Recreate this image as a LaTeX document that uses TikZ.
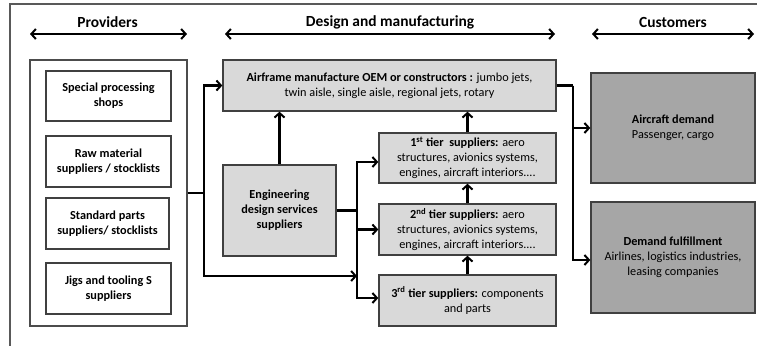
\documentclass[tikz,border=0pt]{standalone}
\usepackage{fontspec}
\setmainfont{Carlito}
\usetikzlibrary{arrows.meta}
\definecolor{lightg}{HTML}{D9D9D9}
\definecolor{darkg}{HTML}{A6A6A6}
\definecolor{edgeg}{HTML}{404040}
\begin{document}
\begin{tikzpicture}[x=1bp,y=-1bp,
  box/.style={draw=edgeg, line width=1.4bp, fill=lightg, align=center, inner sep=1pt,
    font=\fontsize{12.3}{15}\selectfont},
  pbox/.style={box, fill=white, font=\bfseries\fontsize{12.3}{15}\selectfont},
  dbox/.style={box, fill=darkg},
  conn/.style={line width=2.2bp, -{Straight Barb[length=4.5bp,width=10bp,line width=2bp]}},
  plain/.style={line width=2.2bp},
  harrow/.style={line width=2bp, {Straight Barb[length=4.5bp,width=10bp]}-{Straight Barb[length=4.5bp,width=10bp]}},
  head/.style={font=\bfseries\fontsize{15.5}{18}\selectfont}]
\useasboundingbox (0,0) rectangle (757,346);
\draw[black!65, line width=1.2bp] (757,4) -- (10,4) -- (10,346);

% headers
\node[head] (hprov) at (107.5,22) {Providers};
\node[head] (hdes) at (390,22) {Design and manufacturing};
\node[head] (hcust) at (673,22) {Customers};
\coordinate (hp1) at (30,34); \coordinate (hp2) at (187,34);
\coordinate (hd1) at (225,34); \coordinate (hd2) at (555,34);
\coordinate (hc1) at (592,34); \coordinate (hc2) at (754,34);
\draw[harrow] (hp1) -- (hp2);
\draw[harrow] (hd1) -- (hd2);
\draw[harrow] (hc1) -- (hc2);

% providers
\node[draw=black!70, line width=1.1bp, fill=white, minimum width=157bp, minimum height=266bp] (prov) at (108.5,193) {};
\node[pbox, minimum width=125bp, minimum height=50bp] (p1) at (108.5,96) {Special processing\\shops};
\node[pbox, minimum width=125bp, minimum height=51bp] (p2) at (108.5,161.5) {Raw material\\suppliers / stocklists};
\node[pbox, minimum width=123bp, minimum height=51bp] (p3) at (107.5,223.5) {Standard parts\\suppliers/ stocklists};
\node[pbox, minimum width=125bp, minimum height=51bp] (p4) at (108.5,288.5) {Jigs and tooling S\\suppliers};

% design and manufacturing
\node[box, minimum width=333bp, minimum height=51bp] (air) at (389.5,85.5)
  {\textbf{Airframe manufacture OEM or constructors :} jumbo jets,\\twin aisle, single aisle, regional jets, rotary};
\node[box, minimum width=113bp, minimum height=91bp] (eng) at (279.5,210.5)
  {\textbf{Engineering}\\\textbf{design services}\\\textbf{suppliers}};
\node[box, minimum width=177bp, minimum height=50bp] (t1) at (467.5,158)
  {\textbf{1\textsuperscript{st} tier\ \ suppliers:} aero\\structures, avionics systems,\\engines, aircraft interiors....};
\node[box, minimum width=177bp, minimum height=51bp] (t2) at (467.5,229.5)
  {\textbf{2\textsuperscript{nd} tier suppliers:} aero\\structures, avionics systems,\\engines, aircraft interiors....};
\node[box, minimum width=177bp, minimum height=51bp] (t3) at (467.5,300.5)
  {\textbf{3\textsuperscript{rd} tier suppliers:} components\\and parts};

% customers
\node[dbox, minimum width=164bp, minimum height=110bp] (d1) at (673,128)
  {\textbf{Aircraft demand}\\Passenger, cargo};
\node[dbox, minimum width=164bp, minimum height=111bp] (d2) at (673,257.5)
  {\textbf{Demand fulfillment}\\Airlines, logistics industries,\\leasing companies};

% connectors
\coordinate (pj) at (204,193);
\coordinate (mj) at (357,276);
\coordinate (ej) at (357,210.5);
\coordinate (cj) at (573,85.5);
\draw[plain] (prov.east) -- (pj);
\draw[conn] (pj) |- (air.west);
\draw[conn] (pj) |- (mj);
\draw[conn] (eng.north) -- (eng.north |- air.south);
\draw[conn] (t1.north) -- (t1.north |- air.south);
\draw[conn] (t2.north) -- (t2.north |- t1.south);
\draw[conn] (t3.north) -- (t3.north |- t2.south);
\draw[plain] (eng.east) -- (ej);
\draw[conn] (ej) |- ([yshift=-4bp]t1.west);
\draw[conn] (ej) |- (t2.west);
\draw[conn] (ej) |- ([yshift=2.5bp]t3.west);
\draw[plain] (air.east) -- (cj);
\draw[conn] (cj) |- (d1.west);
\draw[conn] (cj) |- ([yshift=-2.5bp]d2.west);
\end{tikzpicture}
\end{document}
